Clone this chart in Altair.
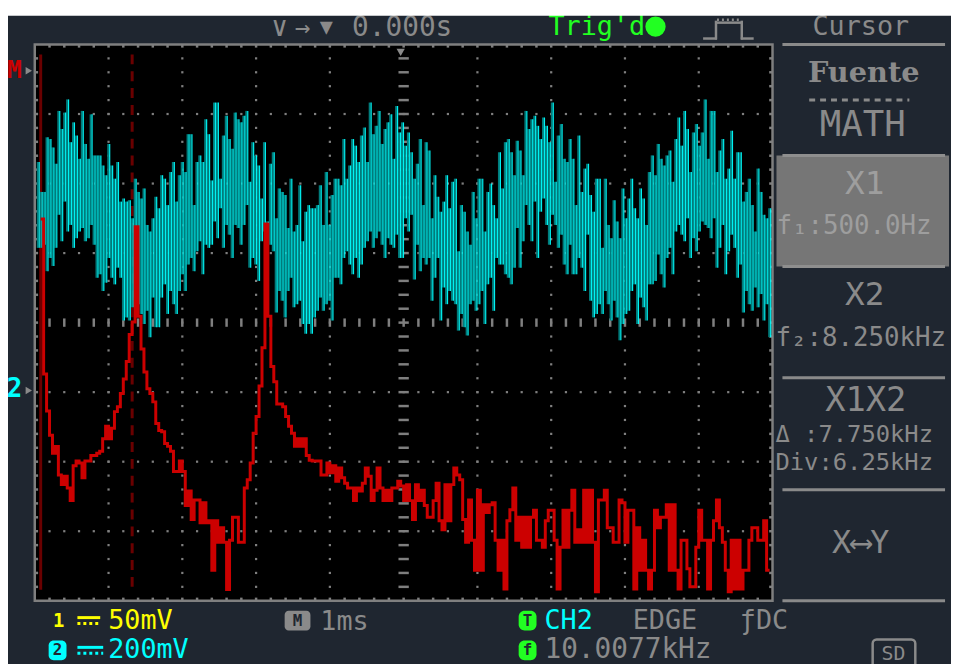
import altair as alt
import numpy as np
import pandas as pd

# CH2 (time domain, 200 mV/div, 1 ms/div): upper / lower envelope of the noisy trace, mV
ch2_hi = [649,563,563,720,715,691,644,796,744,791,829,706,763,725,658,796,701,658,786,668,
          668,668,639,611,701,639,601,649,535,544,535,539,487,601,563,544,573,468,449,487,
          549,516,611,601,525,620,649,535,611,649,620,729,729,525,649,668,649,772,729,596,
          820,820,601,
          725,782,715,687,791,772,763,782,796,592,706,668,639,544,706,478,644,677,487,573,
          563,554,459,601,449,468,582,421,506,525,516,516,525,582,468,620,468,554,601,601,
          582,715,601,639,715,696,649,725,748,649,820,729,753,796,701,744,763,786,658,810,
          734,763,696,
          734,677,601,644,715,525,706,682,487,611,549,506,535,611,516,592,601,392,525,506,
          449,411,563,487,601,601,449,563,587,525,487,677,573,706,715,677,611,710,682,611,
          796,744,772,782,753,715,777,753,706,820,592,725,758,658,649,715,658,525,725,563,
          630,644,554,506,
          601,601,402,601,468,430,539,478,430,573,487,544,601,516,487,573,544,468,620,668,
          611,701,658,639,668,682,592,715,777,696,796,744,620,734,758,696,734,829,658,796,
          796,620,682,715,601,630,739,601,677,677,535,563,601,525,449,630,563,497,487,516]
ch2_lo = [402,402,411,335,373,350,402,497,421,535,449,468,402,430,449,459,421,430,468,411,
          316,326,278,302,373,316,297,345,316,193,202,193,231,259,240,212,183,221,145,259,
          174,174,259,297,212,278,240,212,278,326,278,354,373,335,392,421,326,411,402,411,
          478,430,516,
          402,468,440,373,468,459,411,468,525,345,373,354,307,421,449,402,411,392,216,278,
          250,202,278,316,231,240,250,183,155,183,155,202,221,259,221,240,250,193,316,316,
          297,373,392,354,326,373,316,354,402,421,449,402,430,449,411,373,430,411,402,440,
          373,373,487,
          449,497,311,411,335,373,354,373,250,316,373,193,288,240,278,250,240,164,212,174,
          150,240,250,221,240,278,183,297,316,221,373,354,354,326,316,297,345,459,345,421,
          525,468,421,535,373,506,544,468,411,497,468,402,440,354,326,411,326,326,373,345,
          278,440,250,202,
          212,240,212,278,240,193,250,202,136,183,212,221,278,297,183,259,231,193,297,297,
          307,383,326,288,373,402,326,449,468,440,421,487,373,430,392,449,478,468,459,430,
          487,345,402,468,326,392,440,402,316,354,216,278,240,221,288,231,269,193,240,145]
ch2_t_first, ch2_t_last = -4.96, 4.955          # ms

# MATH (FFT of CH2): level in dB per 0.25 kHz bin, starting at 0.5 kHz
fft_f0, fft_df = 0.5, 0.25
fft_db = [-21.4,-43.7,-49.0,-52.5,-55.1,-54.1,-58.2,-59.6,-58.4,-60.1,
          -61.9,-56.9,-56.2,-56.5,-58.6,-56.2,-56.2,-55.4,-55.4,-55.1,
          -54.8,-53.0,-51.2,-53.0,-51.5,-49.1,-48.4,-46.5,-44.4,-41.9,
          -38.0,-36.2,-22.5,-35.4,-40.1,-43.4,-45.8,-46.5,-47.7,-50.8,
          -51.8,-52.0,-53.7,-54.1,-54.8,-57.7,-57.7,-56.2,-57.7,-62.6,
          -60.5,-64.6,-61.8,-61.8,-65.1,-62.2,-65.1,-64.8,-71.9,-64.8,
          -67.9,-65.8,-67.9,-74.7,-67.6,-64.3,-64.3,-67.9,-67.9,-60.1,
          -58.9,-56.5,-52.2,-49.8,-45.4,-39.9,-22.1,-35.4,-42.6,-44.8,
          -48.0,-48.0,-48.4,-49.8,-51.2,-52.2,-54.1,-53.0,-54.1,-53.0,
          -55.4,-56.1,-56.2,-56.2,-56.2,-58.2,-58.2,-56.5,-57.9,-56.9,
          -59.1,-57.2,-58.6,-59.4,-60.1,-60.1,-61.9,-60.1,-60.5,-59.4,
          -57.2,-58.4,-61.9,-60.4,-57.2,-60.1,-61.9,-60.4,-61.9,-60.1,
          -60.1,-59.1,-59.8,-61.9,-59.6,-61.9,-64.6,-59.6,-61.9,-60.4,
          -62.6,-64.3,-64.3,-61.9,-59.4,-64.8,-66.1,-59.6,-64.8,-59.6,
          -57.2,-58.2,-58.9,-64.6,-67.9,-61.8,-67.6,-71.9,-60.4,-71.9,
          -62.5,-63.6,-62.5,-62.2,-67.6,-71.9,-67.6,-74.6,-64.8,-63.2,
          -60.1,-67.6,-64.3,-68.6,-64.3,-68.6,-64.3,-63.3,-67.6,-67.6,
          -68.6,-64.8,-63.3,-63.3,-67.6,-74.6,-68.6,-63.3,-68.6,-63.3,
          -60.4,-67.9,-66.1,-67.9,-60.4,-67.9,-60.4,-67.9,-75.0,-61.8,
          -61.8,-60.4,-65.8,-65.8,-67.9,-67.9,-61.8,-62.2,-67.9,-63.3,
          -63.3,-74.6,-65.8,-71.9,-67.6,-71.9,-74.6,-71.9,-63.3,-65.8,
          -64.3,-64.3,-62.5,-71.9,-62.5,-71.9,-74.6,-67.6,-67.6,-71.7,
          -74.3,-74.3,-68.6,-63.3,-67.6,-67.6,-74.6,-67.6,-64.8,-61.8,
          -65.8,-67.9,-71.9,-75.0,-67.6,-74.6,-67.6,-74.6,-71.9,-71.9,
          -67.6,-65.8,-65.8,-67.6,-67.6,-64.8,-71.9,-71.9]

cursor_khz = [0.5, 8.25]          # X1, X2

# ---------------- styling ----------------
BG = "#1f2630"
GREY = "#8a8a8a"
GRID = "#7f7f7f"
YELLOW = "#ffff00"
CYAN = "#00ffff"
TEAL = "#007c7c"
GREEN = "#22ff22"
RED = "#cc0000"
DARKRED = "#6a0000"
BOXGREY = "#767676"
BOXTXT = "#9e9e9e"
MONO = "DejaVu Sans Mono"

PX0, PY0 = 35, 42        # page position of the graticule's top-left corner
W, H = 744, 561

# ---------------- tables ----------------
n = len(ch2_hi)
t = np.linspace(ch2_t_first, ch2_t_last, n)
dt = t[1] - t[0]
ch2 = pd.DataFrame({"t": t, "t_hl": t + dt / 2, "hi": ch2_hi, "lo": ch2_lo})

fft = pd.DataFrame({"f": fft_f0 + fft_df * np.arange(len(fft_db)), "db": fft_db})
curs = pd.DataFrame({"f": cursor_khz, "kind": ["X1", "X2"]})

xs_div = alt.Scale(domain=[0, 10], nice=False, zero=False)
ys_div = alt.Scale(domain=[-4, 4], nice=False, zero=False)
xs_khz = alt.Scale(domain=[0, 62.5], nice=False, zero=False)
ys_db = alt.Scale(domain=[-76.3, 3.7], nice=False, zero=False)
xs_ms = alt.Scale(domain=[-5, 5], nice=False, zero=False)
ys_mv = alt.Scale(domain=[-613, 987], nice=False, zero=False)

# graticule (layout, in divisions)
dots = [(k, -4 + j * 0.2) for k in range(1, 10) if k != 5 for j in range(1, 40)]
dots += [(j * 0.2, m) for m in range(-3, 4) if m != 0 for j in range(1, 50)]
dots_df = pd.DataFrame(dots, columns=["x", "y"])
ys_minor = [-4 + j * 0.2 for j in range(1, 40)]
xs_minor = [j * 0.2 for j in range(1, 50)]

hseg = []   # horizontal short segments: x1, x2, y
vseg = []   # vertical short segments: x, y1, y2
for y in ys_minor:
    hseg.append((4.93, 5.07, y))          # centre vertical axis dashes
    hseg.append((0.0, 0.045, y))          # left border ticks
    hseg.append((9.955, 10.0, y))         # right border ticks
for x in xs_minor:
    vseg.append((x, -0.06, 0.06))         # centre horizontal axis dashes
    vseg.append((x, 4.0, 3.955))          # top border ticks
    vseg.append((x, -4.0, -3.955))        # bottom border ticks
hseg_df = pd.DataFrame(hseg, columns=["x1", "x2", "y"])
vseg_df = pd.DataFrame(vseg, columns=["x", "y1", "y2"])
frame = pd.DataFrame({"x": [0], "x2": [10], "y": [-4], "y2": [4]})

one = pd.DataFrame({"a": [0]})


def X(v):
    return alt.value(v - PX0)


def Y(v):
    return alt.value(v - PY0)


def txt(s, x, y, color=GREY, size=26, align="left", font=MONO, weight="normal"):
    return alt.Chart(one).mark_text(text=s, color=color, fontSize=size, align=align,
                                    baseline="middle", font=font, fontWeight=weight
                                    ).encode(x=X(x), y=Y(y))


def hline(x1, x2, y, color=GREY, w=3, dash=None):
    kw = dict(color=color, strokeWidth=w)
    if dash:
        kw["strokeDash"] = dash
    return alt.Chart(one).mark_rule(**kw).encode(x=X(x1), x2=X(x2), y=Y(y))


def vline(x, y1, y2, color=GREY, w=3):
    return alt.Chart(one).mark_rule(color=color, strokeWidth=w).encode(x=X(x), y=Y(y1), y2=Y(y2))


def box(x1, x2, y1, y2, color, r=0):
    return alt.Chart(one).mark_rect(color=color, cornerRadius=r).encode(
        x=X(x1), x2=X(x2), y=Y(y1), y2=Y(y2))


def pt(x, y, shape, size, color):
    return alt.Chart(one).mark_point(shape=shape, size=size, filled=True, color=color,
                                     opacity=1).encode(x=X(x), y=Y(y))


layers = []

# graticule
layers.append(alt.Chart(dots_df).mark_square(size=5, color=GRID, opacity=1).encode(
    x=alt.X("x:Q", scale=xs_div, axis=None), y=alt.Y("y:Q", scale=ys_div, axis=None)))
layers.append(alt.Chart(hseg_df).mark_rule(color=GRID, strokeWidth=2.5).encode(
    x=alt.X("x1:Q", scale=xs_div, axis=None), x2="x2:Q",
    y=alt.Y("y:Q", scale=ys_div, axis=None)))
layers.append(alt.Chart(vseg_df).mark_rule(color=GRID, strokeWidth=2.5).encode(
    x=alt.X("x:Q", scale=xs_div, axis=None),
    y=alt.Y("y1:Q", scale=ys_div, axis=None), y2="y2:Q"))
layers.append(alt.Chart(frame).mark_rect(fillOpacity=0, stroke=GRID, strokeWidth=2.5).encode(
    x=alt.X("x:Q", scale=xs_div, axis=None), x2="x2:Q",
    y=alt.Y("y:Q", scale=ys_div, axis=None), y2="y2:Q"))

# cursors (MATH, kHz)
layers.append(alt.Chart(curs[curs.kind == "X1"]).mark_rule(color=DARKRED, strokeWidth=3).encode(
    x=alt.X("f:Q", scale=xs_khz, axis=None), y=alt.value(10), y2=alt.value(550)))
layers.append(alt.Chart(curs[curs.kind == "X2"]).mark_rule(
    color=DARKRED, strokeWidth=3, strokeDash=[10, 7]).encode(
    x=alt.X("f:Q", scale=xs_khz, axis=None), y=alt.value(10), y2=alt.value(550)))

# CH2 trace: teal column body plus a bright cyan stroke beside it
layers.append(alt.Chart(ch2).mark_rule(color=TEAL, strokeWidth=2).encode(
    x=alt.X("t:Q", scale=xs_ms, axis=None),
    y=alt.Y("lo:Q", scale=ys_mv, axis=None), y2="hi:Q"))
layers.append(alt.Chart(ch2).mark_rule(color=CYAN, strokeWidth=1.2, opacity=0.95).encode(
    x=alt.X("t_hl:Q", scale=xs_ms, axis=None),
    y=alt.Y("lo:Q", scale=ys_mv, axis=None), y2="hi:Q"))

# MATH FFT trace
layers.append(alt.Chart(fft).mark_line(color=RED, strokeWidth=3, interpolate="step-after").encode(
    x=alt.X("f:Q", scale=xs_khz, axis=None), y=alt.Y("db:Q", scale=ys_db, axis=None)))

# trigger position marker
layers.append(pt(404, 50, "triangle-down", 70, GREY))

# left channel markers
layers.append(txt("M", 14.5, 68, RED, 25, "center", MONO, "bold"))
layers.append(pt(29, 68.5, "triangle-right", 55, GREY))
layers.append(txt("2", 14.5, 390, CYAN, 26, "center", MONO, "bold"))
layers.append(pt(29, 391, "triangle-right", 55, GREY))

# top bar
layers.append(txt("∨", 282, 25, GREY, 28, "center"))
layers.append(txt("→", 305, 25, GREY, 26, "center"))
layers.append(txt("▼", 329, 24, GREY, 22, "center"))
layers.append(txt("0.000s", 355, 25, GREY, 28))
layers.append(txt("Trig'd", 553, 24, GREEN, 27))
layers.append(pt(661, 24, "circle", 420, GREEN))
layers.append(hline(709, 723, 36, GREY, 2.5))
layers.append(vline(722, 18, 37, GREY, 2.5))
layers.append(hline(721, 749, 20, GREY, 2.5))
layers.append(hline(723, 748, 17, GREY, 2.5, [2, 3]))
layers.append(vline(748, 18, 37, GREY, 2.5))
layers.append(hline(747, 760, 36, GREY, 2.5))

# right panel
layers.append(txt("Cursor", 868, 24, GREY, 27, "center"))
layers.append(hline(789, 953, 42))
layers.append(txt("Fuente", 871, 71, GREY, 29, "center", "DejaVu Serif", "bold"))
layers.append(hline(816, 917, 98, GREY, 3, [6, 5]))
layers.append(txt("MATH", 870, 123, GREY, 36, "center"))
layers.append(box(783, 957, 154, 266, BOXGREY))
layers.append(hline(789, 953, 154, "#8e8e8e"))
layers.append(hline(789, 953, 266, "#8e8e8e"))
layers.append(txt("X1", 872, 183, BOXTXT, 33, "center"))
layers.append(txt("f₁:500.0Hz", 783, 225, BOXTXT, 26))
layers.append(txt("X2", 872, 295, GREY, 33, "center"))
layers.append(txt("f₂:8.250kHz", 782, 338, GREY, 26))
layers.append(hline(789, 953, 378))
layers.append(txt("X1X2", 873, 402, GREY, 34, "center"))
layers.append(txt("Δ :7.750kHz", 782, 436, GREY, 24))
layers.append(txt("Div:6.25kHz", 782, 464, GREY, 24))
layers.append(hline(789, 953, 491))
layers.append(txt("X⟷Y", 868, 545, GREY, 32, "center"))
layers.append(hline(789, 953, 603))

# bottom status rows
layers.append(txt("1", 59, 623, YELLOW, 19, "center", MONO, "bold"))
layers.append(hline(78, 101, 620, YELLOW, 3))
layers.append(hline(78, 101, 626, YELLOW, 3, [3, 3]))
layers.append(txt("50mV", 109, 623, YELLOW, 27))
layers.append(box(287, 313, 613, 633, GREY, 4))
layers.append(txt("M", 300, 623, BG, 16, "center", MONO, "bold"))
layers.append(txt("1ms", 323, 624, GREY, 27))
layers.append(box(523, 541, 613, 633, GREEN, 6))
layers.append(txt("T", 532, 623, BG, 16, "center", MONO, "bold"))
layers.append(txt("CH2", 549, 623, CYAN, 27))
layers.append(txt("EDGE", 638, 623, GREY, 27))
layers.append(txt("ƒDC", 746, 623, GREY, 27))

layers.append(box(49, 67, 643, 663, CYAN, 5))
layers.append(txt("2", 58, 653, BG, 16, "center", MONO, "bold"))
layers.append(hline(78, 104, 650, CYAN, 3))
layers.append(hline(78, 104, 656, CYAN, 3, [3, 3]))
layers.append(txt("200mV", 109, 653, CYAN, 27))
layers.append(box(523, 541, 643, 663, GREEN, 6))
layers.append(txt("f", 532, 653, BG, 16, "center", MONO, "bold"))
layers.append(txt("10.0077kHz", 549, 653, GREY, 28))
layers.append(alt.Chart(one).mark_rect(fillOpacity=0, stroke=GREY, strokeWidth=2.5,
                                       cornerRadius=4).encode(
    x=X(880), x2=X(923), y=Y(642), y2=Y(672)))
layers.append(txt("SD", 901, 657, GREY, 20, "center"))

# white strip at the very top of the screenshot
layers.append(box(0, 959, 4, 13, "white"))

chart = alt.layer(*layers).resolve_scale(x="independent", y="independent").properties(
    width=W, height=H,
    background=BG,
    padding={"left": PX0 - 8, "top": PY0 - 8, "right": 951 - W - (PX0 - 8),
             "bottom": 656 - H - (PY0 - 8)},
    autosize=alt.AutoSizeParams(type="none"),
).configure_view(fill="black", strokeWidth=0)

chart.save("out.html", embed_options={"renderer": "svg", "actions": False})
